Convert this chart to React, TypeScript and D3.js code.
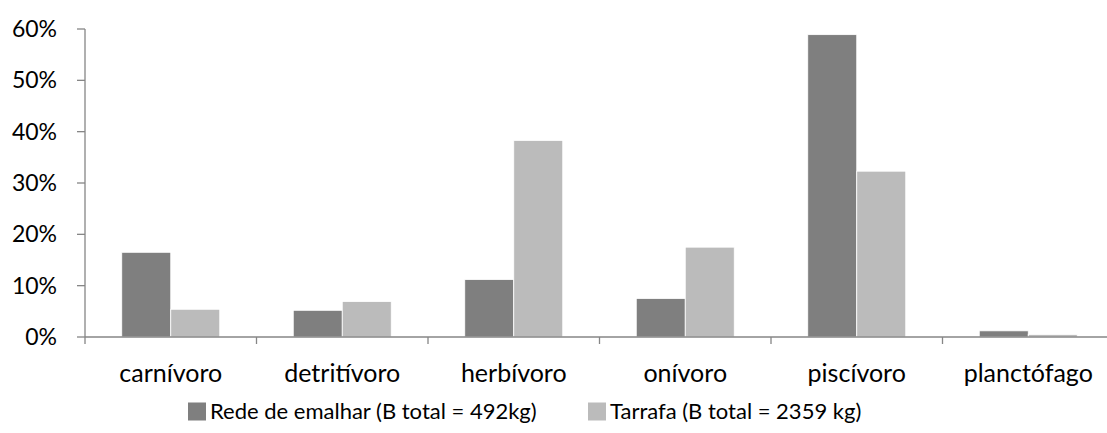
import React from "react";
import * as d3 from "d3";

const categories = ["carnívoro", "detritívoro", "herbívoro", "onívoro", "piscívoro", "planctófago"];
const seriesNames = ["Rede de emalhar (B total = 492kg)", "Tarrafa (B total = 2359 kg)"];
const redeValues = [0.165, 0.052, 0.112, 0.075, 0.589, 0.012];
const tarrafaValues = [0.054, 0.069, 0.383, 0.175, 0.323, 0.005];
const yTicks = [0, 0.1, 0.2, 0.3, 0.4, 0.5, 0.6];
const colors = ["#7f7f7f", "#bbbbbb"];

const W = 1107;
const H = 433;
const FONT = "Lato, 'Open Sans', sans-serif";

export default function App() {
  const left = 85;
  const band = 171.5;
  const x = d3.scaleBand<string>().domain(categories).range([left, left + band * categories.length]).padding(0);
  const inner = d3
    .scaleBand<string>()
    .domain(seriesNames)
    .range([x.bandwidth() * 0.2143, x.bandwidth() * 0.7857])
    .padding(0);
  const y = d3.scaleLinear().domain([0, 0.6]).range([337, 29]);
  const fmt = d3.format(".0%");
  const series = [redeValues, tarrafaValues];
  const axisColor = "#868686";

  const boundaries = categories.map((c) => x(c) as number).concat([(x(categories[categories.length - 1]) as number) + x.bandwidth()]);

  return (
    <svg width={W} height={H} style={{ position: "absolute", left: 0, top: 0, background: "#fff" }} fontFamily={FONT}>
      <rect x={0} y={0} width={W} height={H} fill="#fff" />
      {/* bars */}
      {series.map((vals, si) =>
        vals.map((v, i) => (
          <rect
            key={`${si}-${i}`}
            x={(x(categories[i]) as number) + (inner(seriesNames[si]) as number)}
            y={y(v)}
            width={inner.bandwidth()}
            height={y(0) - y(v)}
            fill={colors[si]}
            stroke="#ffffff"
            strokeWidth={0.8}
          />
        ))
      )}
      {/* y axis */}
      <line x1={left} x2={left} y1={y(0.6)} y2={y(0)} stroke={axisColor} strokeWidth={1.3} />
      {yTicks.map((t) => (
        <g key={t}>
          <line x1={left - 8} x2={left} y1={y(t)} y2={y(t)} stroke={axisColor} strokeWidth={1.3} />
          <text x={57} y={y(t)} dy="0.35em" textAnchor="end" fontSize={23} fill="#000">
            {fmt(t)}
          </text>
        </g>
      ))}
      {/* x axis */}
      <line x1={left} x2={W} y1={y(0)} y2={y(0)} stroke={axisColor} strokeWidth={1.3} />
      {boundaries.map((b, i) => (
        <line key={i} x1={b} x2={b} y1={y(0)} y2={y(0) + 7} stroke={axisColor} strokeWidth={1.3} />
      ))}
      {categories.map((c) => (
        <text key={c} x={(x(c) as number) + x.bandwidth() / 2} y={373} dy="0.35em" textAnchor="middle" fontSize={25} fill="#000">
          {c}
        </text>
      ))}
      {/* legend */}
      {[188, 588].map((lx, i) => (
        <g key={i}>
          <rect x={lx} y={402.5} width={18} height={18} fill={colors[i]} />
          <text x={lx + 22} y={411.5} dy="0.35em" fontSize={22} fill="#000">
            {seriesNames[i]}
          </text>
        </g>
      ))}
    </svg>
  );
}
